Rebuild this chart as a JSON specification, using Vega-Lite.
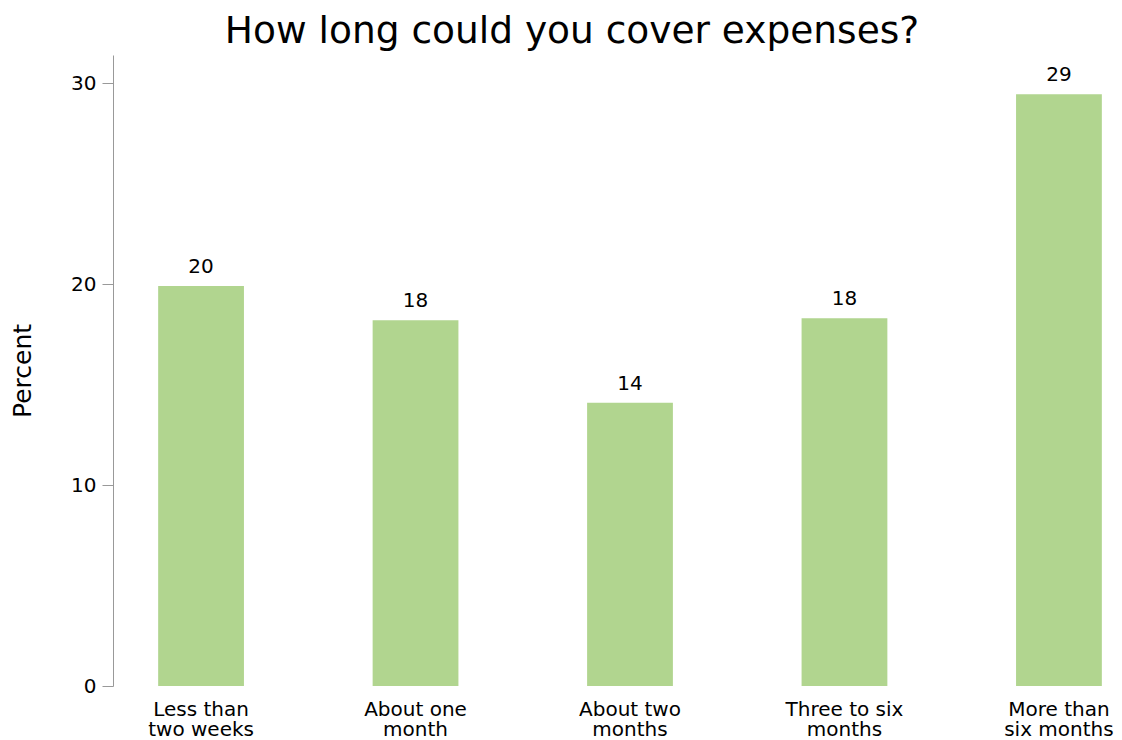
{
  "$schema": "https://vega.github.io/schema/vega-lite/v6.json",
  "autosize": {"type": "none"},
  "padding": {"left": 138, "top": 55, "right": 0, "bottom": 54},
  "width": 984,
  "height": 631,
  "background": "white",
  "config": {
    "font": "DejaVu Sans",
    "view": {"stroke": null},
    "title": {"font": "DejaVu Sans", "fontSize": 37.5, "fontWeight": "normal", "color": "black"}
  },
  "title": {"text": "How long could you cover expenses?", "anchor": "middle", "dx": -58, "offset": 5},
  "data": {
    "values": [
      {"duration": "Less than two weeks", "percent": 19.9},
      {"duration": "About one month", "percent": 18.2},
      {"duration": "About two months", "percent": 14.1},
      {"duration": "Three to six months", "percent": 18.3},
      {"duration": "More than six months", "percent": 29.45}
    ]
  },
  "encoding": {
    "x": {
      "field": "duration",
      "type": "nominal",
      "sort": null,
      "scale": {"paddingInner": 0.6, "paddingOuter": 0.094},
      "axis": {
        "title": null,
        "labelAngle": 0,
        "ticks": false,
        "domain": false,
        "labelFontSize": 20,
        "labelColor": "black",
        "labelPadding": 13,
        "labelLineHeight": 20,
        "labelExpr": "({'Less than two weeks': ['Less than', 'two weeks'], 'About one month': ['About one', 'month'], 'About two months': ['About two', 'months'], 'Three to six months': ['Three to six', 'months'], 'More than six months': ['More than', 'six months']})[datum.label]"
      }
    },
    "y": {
      "field": "percent",
      "type": "quantitative",
      "scale": {"domain": [0, 31.4], "nice": false},
      "axis": {
        "title": "Percent",
        "titleFontSize": 25,
        "titleFontWeight": "normal",
        "titleColor": "black",
        "titlePadding": 35,
        "values": [0, 10, 20, 30],
        "grid": false,
        "offset": 25,
        "domainColor": "#999999",
        "tickColor": "#999999",
        "tickSize": 11,
        "labelPadding": 6,
        "labelFontSize": 20,
        "labelColor": "black"
      }
    }
  },
  "layer": [
    {"mark": {"type": "bar", "color": "#b1d58f"}},
    {
      "mark": {"type": "text", "dy": -13, "baseline": "alphabetic", "fontSize": 20, "color": "black"},
      "encoding": {"text": {"field": "percent", "type": "quantitative", "format": ".0f"}}
    }
  ]
}
